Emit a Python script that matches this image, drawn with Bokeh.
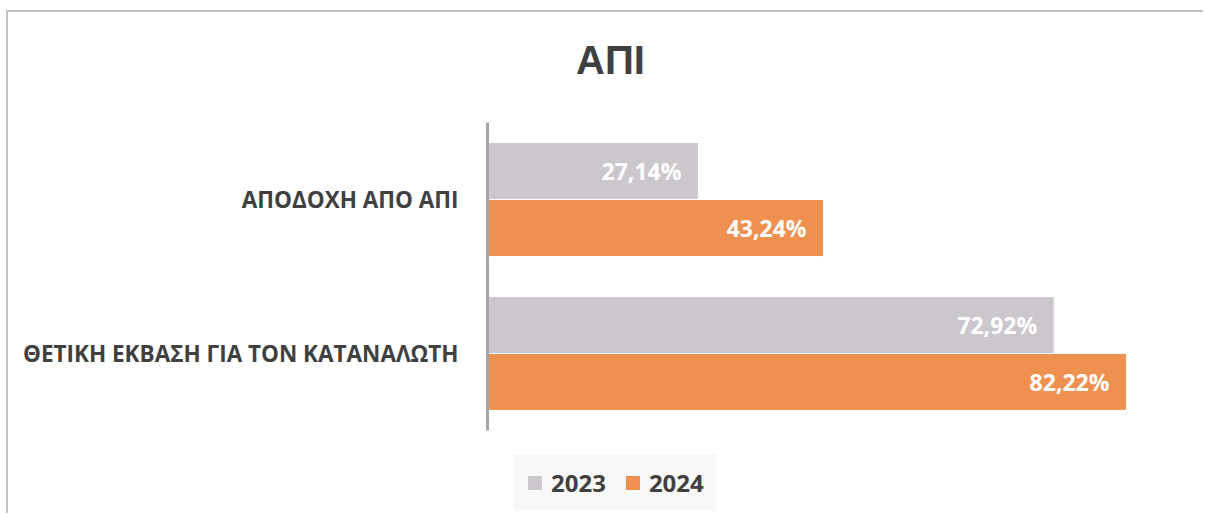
from bokeh.plotting import figure
from bokeh.models import ColumnDataSource, Range1d, Legend, LegendItem, Label, FixedTicker
from bokeh.transform import dodge
from bokeh.core.properties import value
from bokeh.embed import file_html
from bokeh.resources import INLINE

categories = ["ΘΕΤΙΚΗ ΕΚΒΑΣΗ ΓΙΑ ΤΟΝ ΚΑΤΑΝΑΛΩΤΗ", "ΑΠΟΔΟΧΗ ΑΠΟ ΑΠΙ"]
values_2023 = [72.92, 27.14]
values_2024 = [82.22, 43.24]
labels_2023 = ["72,92%", "27,14%"]
labels_2024 = ["82,22%", "43,24%"]
series_names = ["2023", "2024"]
title_text = "ΑΠΙ"

C23 = "#CBC7CC"
C24 = "#EE9150"
TXT = "#404040"
LEG_BG = "#F8F8F8"

# layout constants (pixels)
W, H = 1197, 503
LEFT = 479
PX_PER_CAT = 154
TOP_PAD_PX = 110      # from canvas top to the top of the category band
BOT_PAD_PX = 85       # from the bottom of the category band to canvas bottom

pos = list(range(len(categories)))
n = len(categories)
y_lo = -0.5 - BOT_PAD_PX / PX_PER_CAT
y_hi = n - 0.5 + TOP_PAD_PX / PX_PER_CAT

src = ColumnDataSource(dict(pos=pos, cat=categories, v23=values_2023, v24=values_2024,
                            l23=labels_2023, l24=labels_2024))

p = figure(width=W, height=H, output_backend="svg", toolbar_location=None,
           x_range=Range1d(0, 92.39), y_range=Range1d(y_lo, y_hi),
           min_border_left=LEFT, min_border_right=0, min_border_top=0, min_border_bottom=0,
           x_axis_location=None)
p.styles = {"border-top": "2px solid #C3C3C3", "border-left": "2px solid #C3C3C3",
            "margin-left": "6px", "margin-top": "10px"}
p.outline_line_color = None
p.xgrid.visible = False
p.ygrid.visible = False

r23 = p.hbar(y=dodge("pos", 0.185), right="v23", left=0, height=0.37,
             source=src, fill_color=C23, line_color="white", line_width=1)
r24 = p.hbar(y=dodge("pos", -0.185), right="v24", left=0, height=0.37,
             source=src, fill_color=C24, line_color="white", line_width=1)

for col, lab, off in (("v23", "l23", 0.185), ("v24", "l24", -0.185)):
    p.text(x=col, y=dodge("pos", off), text=lab, source=src,
           text_align="right", text_baseline="middle", x_offset=-17,
           text_color="white", text_font=value("Open Sans"), text_font_style="bold",
           text_font_size="23px")

ax = p.yaxis[0]
ax.ticker = FixedTicker(ticks=pos)
ax.major_label_overrides = {i: c for i, c in zip(pos, categories)}
ax.bounds = (-0.5, n - 0.5)
ax.axis_line_color = "#A6A6A6"
ax.axis_line_width = 3
ax.major_tick_line_color = None
ax.minor_tick_line_color = None
ax.major_tick_out = 0
ax.major_tick_in = 0
ax.minor_tick_out = 0
ax.minor_tick_in = 0
ax.major_label_standoff = 29
ax.major_label_text_font = "Open Sans"
ax.major_label_text_font_style = "bold"
ax.major_label_text_font_size = "22.5px"
ax.major_label_text_color = TXT

title = Label(x=15.83, y=n - 0.5 + 63 / PX_PER_CAT, text=title_text,
              text_align="center", text_baseline="middle",
              text_font="Liberation Sans", text_font_style="bold",
              text_font_size="40px", text_color=TXT)
p.add_layout(title)

legend = Legend(items=[LegendItem(label=series_names[0], renderers=[r23]),
                       LegendItem(label=series_names[1], renderers=[r24])],
                orientation="horizontal", location=(26, 4),
                background_fill_color=LEG_BG, background_fill_alpha=1,
                border_line_color=LEG_BG, border_line_width=1, border_line_alpha=1,
                glyph_width=19, glyph_height=19,
                label_standoff=7, spacing=17, padding=11, margin=0,
                label_text_font="Open Sans", label_text_font_style="bold",
                label_text_font_size="24px", label_text_color=TXT)
p.add_layout(legend, "center")

open("out.html", "w").write(file_html(p, INLINE))
